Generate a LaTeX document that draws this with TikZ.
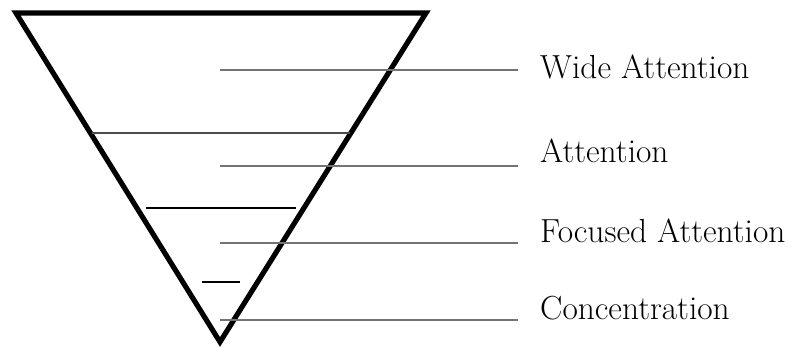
\documentclass[tikz,border=0pt]{standalone}
\usepackage{tikz}
\tikzset{
  funnel/.style={line width=4.4pt, draw=black, line join=miter},
  divider/.style={line width=1.1pt, draw=black!80},
  leader/.style={line width=0.9pt, draw=black!55},
  levellabel/.style={font=\fontsize{28.5}{32}\selectfont, anchor=base west, inner sep=0pt},
}

\begin{document}
\begin{tikzpicture}
\useasboundingbox (0,0) rectangle (23.85,10.41);
% funnel outline
\coordinate (tl) at (0.48,10.02);
\coordinate (tr) at (12.78,10.02);
\coordinate (tip) at (6.60,0.15);
\draw[funnel] (tl) -- (tr) -- (tip) -- cycle;
% dividers inside
\coordinate (d1a) at (2.76,6.42);
\coordinate (d1b) at (10.50,6.42);
\coordinate (d2a) at (4.38,4.17);
\coordinate (d2b) at (8.88,4.17);
\coordinate (d3a) at (6.06,1.95);
\coordinate (d3b) at (7.20,1.95);
\draw[divider, draw=black!70] (d1a) -- (d1b);
\draw[divider, draw=black] (d2a) -- (d2b);
\draw[divider, draw=black] (d3a) -- (d3b);
% labels
\node[levellabel] (wide) at (16.20,8.07) {Wide Attention};
\node[levellabel] (attn) at (16.20,5.55) {Attention};
\node[levellabel] (focus) at (16.20,3.15) {Focused Attention};
\node[levellabel] (conc) at (16.20,0.84) {Concentration};
% leader lines
\coordinate (l1a) at (6.60,8.31);
\coordinate (l1b) at (15.54,8.31);
\coordinate (l2a) at (6.60,5.43);
\coordinate (l2b) at (15.54,5.43);
\coordinate (l3a) at (6.60,3.12);
\coordinate (l3b) at (15.54,3.12);
\coordinate (l4a) at (6.60,0.81);
\coordinate (l4b) at (15.54,0.81);
\draw[leader] (l1a) -- (l1b);
\draw[leader] (l2a) -- (l2b);
\draw[leader] (l3a) -- (l3b);
\draw[leader] (l4a) -- (l4b);
\end{tikzpicture}
\end{document}
